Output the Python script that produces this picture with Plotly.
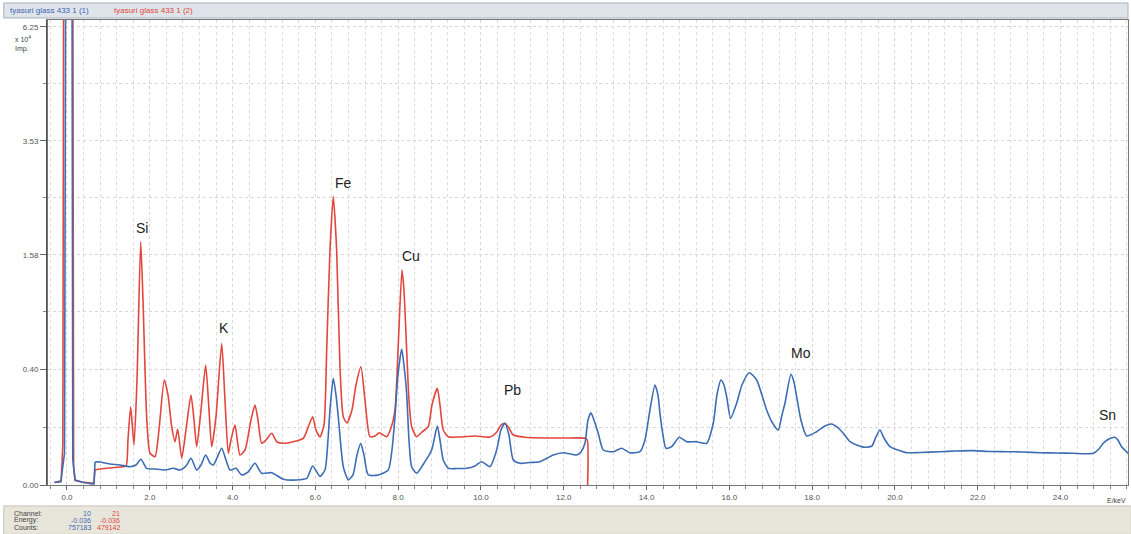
import plotly.graph_objects as go
import numpy as np

# spectrum 2 (red), energy in keV, counts in 10^4 Imp.
red_energy = [-0.30, -0.14, -0.10, -0.08, 0.14, 0.16, 0.20, 0.40, 0.60, 0.65,
              0.676, 0.797, 1.039, 1.28, 1.425, 1.473, 1.539, 1.618, 1.691, 1.78,
              1.836, 1.925, 2.005, 2.126, 2.222, 2.35, 2.44, 2.529, 2.609, 2.674,
              2.771, 2.874, 2.995, 3.068, 3.133, 3.237, 3.35, 3.43, 3.495, 3.599,
              3.737, 3.816, 3.896, 3.961, 4.058, 4.179, 4.30, 4.444, 4.541, 4.614,
              4.703, 4.807, 4.945, 5.072, 5.225, 5.466, 5.708, 5.845, 5.935, 6.014,
              6.111, 6.208, 6.273, 6.353, 6.432, 6.514, 6.594, 6.674, 6.763, 6.884,
              6.981, 7.101, 7.198, 7.319, 7.44, 7.543, 7.722, 7.826, 7.923, 8.007,
              8.092, 8.14, 8.205, 8.261, 8.326, 8.447, 8.575, 8.727, 8.816, 8.945,
              9.01, 9.089, 9.21, 9.493, 9.855, 10.217, 10.386, 10.483, 10.58, 10.676,
              10.78, 11.063, 11.546, 12.029, 12.512, 12.568, 12.576]
red_counts = [0.0002, 0.0005, 0.05, 9.0, 9.0, 0.01, 0.0006, 0.0002, 0.0001, 0.0001,
              0.0067, 0.0076, 0.0086, 0.0097, 0.0108, 0.0603, 0.1827, 0.0477, 0.3286, 1.764,
              1.02, 0.139, 0.0305, 0.0239, 0.0901, 0.3286, 0.2414, 0.1013, 0.0559, 0.0935,
              0.0217, 0.0901, 0.2414, 0.1259, 0.0437, 0.1676, 0.4291, 0.1676, 0.0437, 0.139,
              0.5984, 0.2153, 0.0299, 0.0603, 0.1073, 0.0268, 0.0365, 0.1259, 0.1907, 0.1259,
              0.0518, 0.0603, 0.0797, 0.0551, 0.0518, 0.0559, 0.065, 0.1073, 0.139, 0.0901,
              0.0687, 0.1073, 0.543, 1.646, 2.477, 1.646, 0.417, 0.139, 0.1146, 0.1676,
              0.298, 0.417, 0.2153, 0.0695, 0.0716, 0.0815, 0.0695, 0.0968, 0.1676, 0.6266,
              1.3776, 1.133, 0.543, 0.2153, 0.1013, 0.0695, 0.0837, 0.1013, 0.1907, 0.2787,
              0.1907, 0.0901, 0.0695, 0.0687, 0.0716, 0.0687, 0.0837, 0.1073, 0.1134, 0.0968,
              0.0745, 0.0678, 0.0658, 0.0658, 0.065, 0.0603, 0.0]

# spectrum 1 (blue)
blue_energy = [-0.30, -0.15, -0.06, -0.03, 0.12, 0.14, 0.193, 0.362, 0.604, 0.652,
               0.676, 0.797, 1.039, 1.28, 1.522, 1.667, 1.787, 1.925, 2.126, 2.367,
               2.568, 2.729, 2.874, 2.995, 3.133, 3.237, 3.35, 3.454, 3.534, 3.623,
               3.737, 3.841, 3.937, 4.082, 4.22, 4.372, 4.541, 4.703, 4.945, 5.225,
               5.548, 5.79, 5.935, 6.111, 6.232, 6.304, 6.353, 6.432, 6.498, 6.553,
               6.674, 6.795, 6.908, 7.005, 7.094, 7.174, 7.278, 7.519, 7.761, 7.85,
               7.923, 7.995, 8.085, 8.14, 8.205, 8.261, 8.326, 8.447, 8.647, 8.809,
               8.945, 9.01, 9.089, 9.21, 9.42, 9.655, 9.855, 10.017, 10.217, 10.379,
               10.483, 10.58, 10.676, 10.78, 10.942, 11.184, 11.425, 11.746, 11.988, 12.312,
               12.415, 12.512, 12.585, 12.657, 12.729, 12.833, 12.954, 13.196, 13.399, 13.599,
               13.841, 13.961, 14.082, 14.203, 14.275, 14.324, 14.396, 14.469, 14.606, 14.79,
               14.969, 15.21, 15.452, 15.611, 15.70, 15.797, 15.87, 15.935, 16.031, 16.176,
               16.304, 16.481, 16.659, 16.787, 16.901, 17.029, 17.181, 17.271, 17.343, 17.488,
               17.56, 17.626, 17.729, 17.867, 18.109, 18.309, 18.471, 18.599, 18.751, 18.913,
               19.075, 19.275, 19.444, 19.541, 19.638, 19.734, 19.879, 20.072, 20.283, 20.604,
               21.087, 21.473, 21.891, 22.295, 22.698, 23.092, 23.502, 23.913, 24.307, 24.79,
               24.928, 25.032, 25.169, 25.314, 25.386, 25.476, 25.636]
blue_counts = [0.0002, 0.0003, 0.03, 9.0, 9.0, 0.02, 0.00075, 0.00027, 0.00003, 0.00003,
               0.0158, 0.0158, 0.0131, 0.0119, 0.00998, 0.0119, 0.0197, 0.0083, 0.0076, 0.0067,
               0.0083, 0.0067, 0.0108, 0.0212, 0.0067, 0.0119, 0.0268, 0.0144, 0.0119, 0.0217,
               0.0401, 0.0186, 0.0067, 0.0083, 0.003, 0.005, 0.014, 0.0041, 0.0045, 0.001,
               0.00075, 0.0013, 0.0108, 0.0022, 0.0067, 0.0603, 0.1676, 0.3393, 0.2414, 0.139,
               0.00998, 0.00075, 0.003, 0.0268, 0.0518, 0.0268, 0.003, 0.003, 0.0067, 0.0365,
               0.139, 0.3606, 0.5512, 0.4291, 0.2506, 0.0603, 0.00998, 0.0041, 0.0162, 0.0365,
               0.1037, 0.0603, 0.0186, 0.0083, 0.0081, 0.0083, 0.0108, 0.0162, 0.00998, 0.0365,
               0.0901, 0.1134, 0.0745, 0.0186, 0.014, 0.0151, 0.0162, 0.0268, 0.0311, 0.0268,
               0.0325, 0.0518, 0.1259, 0.1558, 0.1259, 0.0797, 0.0365, 0.033, 0.0401, 0.0311,
               0.033, 0.0603, 0.1676, 0.298, 0.2414, 0.1532, 0.0745, 0.0401, 0.0437, 0.0678,
               0.0559, 0.0559, 0.0518, 0.1134, 0.2414, 0.3286, 0.298, 0.2324, 0.1326, 0.1989,
               0.298, 0.3758, 0.3286, 0.2414, 0.1676, 0.1183, 0.0901, 0.146, 0.1989, 0.3652,
               0.3162, 0.2324, 0.1259, 0.0716, 0.0847, 0.1037, 0.1109, 0.1003, 0.0797, 0.0559,
               0.0477, 0.0424, 0.0453, 0.0687, 0.0901, 0.0658, 0.0437, 0.0365, 0.0311, 0.0315,
               0.033, 0.0344, 0.0351, 0.0334, 0.033, 0.0325, 0.0311, 0.0305, 0.0299, 0.0299,
               0.0386, 0.0518, 0.0631, 0.0678, 0.0603, 0.0437, 0.0299]

# element labels
elements = ["Si", "K", "Fe", "Cu", "Pb", "Mo", "Sn"]
element_energy = [1.81, 3.79, 6.69, 8.31, 10.75, 17.73, 25.13]
element_counts = [1.97, 0.735, 2.72, 1.56, 0.27, 0.52, 0.146]

# square-root intensity axis
y_ticks = [0.0, 0.40, 1.58, 3.53, 6.25]
y_ticktext = ["0.00", "0.40", "1.58", "3.53", "6.25"]
x_ticks = [0, 2, 4, 6, 8, 10, 12, 14, 16, 18, 20, 22, 24]

blue = "#3c6db5"
red = "#e2463d"
FONT = "Liberation Sans, Arial"

# the zero-energy spike stays straight, the rest is smoothed
n_spike = 10

fig = go.Figure()
for en, cn, col in [(red_energy, red_counts, red), (blue_energy, blue_counts, blue)]:
    ys = np.sqrt(cn)
    fig.add_trace(go.Scatter(x=en[:n_spike + 1], y=ys[:n_spike + 1], mode="lines",
                             line=dict(color=col, width=1.6), hoverinfo="skip"))
    fig.add_trace(go.Scatter(x=en[n_spike:], y=ys[n_spike:], mode="lines",
                             line=dict(color=col, width=1.6, shape="spline", smoothing=0.6),
                             hoverinfo="skip"))

for name, e, c in zip(elements, element_energy, element_counts):
    fig.add_annotation(x=e, y=np.sqrt(c), text=name, showarrow=False,
                       font=dict(size=14, color="#222", family=FONT))

sq = [np.sqrt(v) for v in y_ticks]
mid = [(sq[i] + sq[i + 1]) / 2 for i in range(len(sq) - 1)]

small = dict(family=FONT, size=8, color="#555")

fig.update_layout(
    width=1131, height=534,
    margin=dict(l=47, r=3, t=20, b=49),
    paper_bgcolor="white", plot_bgcolor="white",
    showlegend=False,
    font=small,
    xaxis=dict(range=[-0.483, 25.63], tickvals=x_ticks,
               ticktext=["%.1f" % v for v in x_ticks],
               ticks="outside", ticklen=4, tickcolor="#666",
               showline=True, linecolor="#777", linewidth=1, mirror=True,
               showgrid=True, gridcolor="#d6d6d6", griddash="dot", gridwidth=1,
               zeroline=False, tickfont=small,
               minor=dict(dtick=0.4, tick0=0, ticks="outside", ticklen=3,
                          tickcolor="#888", showgrid=True, gridcolor="#dcdcdc",
                          griddash="dot")),
    yaxis=dict(range=[0, 2.538], tickvals=sq, ticktext=y_ticktext,
               ticks="outside", ticklen=6, tickcolor="#666",
               showline=True, linecolor="#777", linewidth=1, mirror=True,
               showgrid=True, gridcolor="#d6d6d6", griddash="dot",
               zeroline=False, tickfont=small,
               minor=dict(tickvals=mid, ticks="outside", ticklen=3,
                          tickcolor="#888", showgrid=True, gridcolor="#d6d6d6",
                          griddash="dot")),
)

# left axis line, darker
fig.add_shape(type="line", xref="paper", yref="paper", x0=0, x1=0, y0=0, y1=1,
              line=dict(color="#444", width=1.5))

# header bar with series names
fig.add_shape(type="rect", xref="paper", yref="paper", x0=-0.040, x1=1.0,
              y0=1.0043, y1=1.0366, fillcolor="#dfe4ea",
              line=dict(color="#a9b1bb", width=1), layer="below")
fig.add_annotation(xref="paper", yref="paper", x=-0.0361, y=1.0205, xanchor="left",
                   yanchor="middle", showarrow=False, text="tyasuri glass 433 1 (1)",
                   font=dict(family=FONT, size=8, color="#3b63b3"))
fig.add_annotation(xref="paper", yref="paper", x=0.060, y=1.0205, xanchor="left",
                   yanchor="middle", showarrow=False, text="tyasuri glass 433 1 (2)",
                   font=dict(family=FONT, size=8, color=red))

# y unit
fig.add_annotation(xref="paper", yref="paper", x=-0.0315, y=0.972, xanchor="left",
                   yanchor="top", showarrow=False, align="left",
                   text="x 10<sup>4</sup><br>Imp.",
                   font=dict(family=FONT, size=7, color="#444"))

# x unit
fig.add_annotation(xref="paper", yref="paper", x=1.0, y=-0.034, xanchor="right",
                   yanchor="middle", showarrow=False, text="E/keV",
                   font=dict(family=FONT, size=7, color="#444"))

# status panel at the bottom
fig.add_shape(type="rect", xref="paper", yref="paper", x0=-0.040, x1=1.003,
              y0=-0.106, y1=-0.045, fillcolor="#e8e5db",
              line=dict(color="#c9c5b8", width=1), layer="below")
rows = ["Channel:", "Energy:", "Counts:"]
blue_vals = ["10", "-0.036", "757183"]
red_vals = ["21", "-0.036", "479142"]
for i in range(3):
    yy = (485 - (513 + 7 * i)) / 465
    fig.add_annotation(xref="paper", yref="paper", x=-0.0325, y=yy, xanchor="left",
                       yanchor="middle", showarrow=False, text=rows[i],
                       font=dict(family=FONT, size=7, color="#444"))
    fig.add_annotation(xref="paper", yref="paper", x=(93 - 47) / 1081, y=yy,
                       xanchor="right", yanchor="middle", showarrow=False,
                       text=blue_vals[i], font=dict(family=FONT, size=7, color=blue))
    fig.add_annotation(xref="paper", yref="paper", x=(122 - 47) / 1081, y=yy,
                       xanchor="right", yanchor="middle", showarrow=False,
                       text=red_vals[i], font=dict(family=FONT, size=7, color=red))

fig.write_html("out.html", config={"displayModeBar": False},
               post_script="document.body.style.margin='0';")
